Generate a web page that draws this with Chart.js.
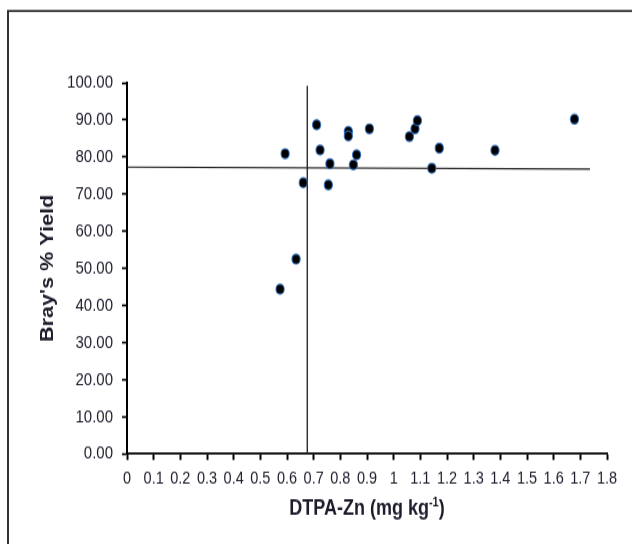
<!DOCTYPE html>
<html>
<head>
<meta charset="utf-8">
<title>Bray's % Yield vs DTPA-Zn</title>
<script src="https://cdn.jsdelivr.net/npm/chart.js@4.4.1/dist/chart.umd.min.js"></script>
<style>
    html, body { margin: 0; padding: 0; background: #ffffff; }
    body { width: 632px; height: 544px; }
    /* the source figure is stretched vertically, so the canvas is too */
    #chart { display: block; transform-origin: 0 0; transform: scaleY(1.2); }
</style>
</head>
<body>
<canvas id="chart" width="632" height="453"></canvas>
<script>
// DTPA-Zn (mg/kg) and Bray's % yield
const zincValues = [0.574, 0.593, 0.634, 0.661, 0.711, 0.724, 0.755, 0.761, 0.830, 0.830,
                    0.849, 0.861, 0.909, 1.059, 1.080, 1.089, 1.143, 1.171, 1.380, 1.678];
const yieldValues = [44.4, 80.9, 52.5, 73.1, 88.7, 81.9, 72.5, 78.2, 86.9, 85.7,
                     77.9, 80.6, 87.6, 85.5, 87.6, 89.8, 77.0, 82.4, 81.8, 90.2];

// critical limit lines (Cate-Nelson style)
const vLineX = [0.676, 0.676];
const vLineY = [0, 99.2];
const hLineX = [0, 1.736];
const hLineY = [77.3, 76.75];

// axis ranges / ticks
const xTicks = { min: 0, max: 1.8, step: 0.1 };
const yTicks = { min: 0, max: 100, step: 10 };

const X_TITLE = 'DTPA-Zn (mg kg';
const X_TITLE_SUP = '-1';
const X_TITLE_END = ')';
const Y_TITLE = "Bray's % Yield";

const FONT = '"Liberation Sans", Arial, sans-serif';
const TEXT_COLOR = '#1c1c2c';

const toPoints = (xs, ys) => xs.map((x, i) => ({ x: x, y: ys[i] }));

// white background plus the figure frame (left and top edges)
const framePlugin = {
    id: 'frame',
    beforeDraw(chart) {
        const ctx = chart.ctx;
        ctx.save();
        ctx.fillStyle = '#ffffff';
        ctx.fillRect(0, 0, chart.width, chart.height);
        ctx.strokeStyle = '#333333';
        ctx.lineWidth = 2;
        ctx.beginPath();
        ctx.moveTo(8, chart.height);
        ctx.lineTo(8, 9.2);
        ctx.stroke();
        ctx.lineWidth = 1.7;
        ctx.beginPath();
        ctx.moveTo(7, 9.2);
        ctx.lineTo(chart.width, 9.2);
        ctx.stroke();
        ctx.restore();
    }
};

// x title with a superscript "-1"
const xTitlePlugin = {
    id: 'xTitle',
    afterDraw(chart) {
        const ctx = chart.ctx;
        const area = chart.chartArea;
        const mainFont = 'bold 18px ' + FONT;
        const supFont = 'bold 11px ' + FONT;
        ctx.save();
        ctx.fillStyle = TEXT_COLOR;
        ctx.textBaseline = 'alphabetic';
        ctx.textAlign = 'left';
        ctx.font = mainFont;
        const w1 = ctx.measureText(X_TITLE).width;
        const w3 = ctx.measureText(X_TITLE_END).width;
        ctx.font = supFont;
        const w2 = ctx.measureText(X_TITLE_SUP).width;
        const cx = (area.left + area.right) / 2;
        const baseY = chart.scales.x.bottom - 24.5;
        let x = cx - (w1 + w2 + w3) / 2;
        ctx.font = mainFont;
        ctx.fillText(X_TITLE, x, baseY);
        x += w1;
        ctx.font = supFont;
        ctx.fillText(X_TITLE_SUP, x, baseY - 7);
        x += w2;
        ctx.font = mainFont;
        ctx.fillText(X_TITLE_END, x, baseY);
        ctx.restore();
    }
};

const ctx = document.getElementById('chart').getContext('2d');
const chart = new Chart(ctx, {
    type: 'scatter',
    data: {
        datasets: [{
            label: 'Yield',
            data: toPoints(zincValues, yieldValues),
            pointRadius: 4.1,
            pointHoverRadius: 4.1,
            pointBackgroundColor: '#000000',
            pointBorderColor: 'rgba(45, 110, 190, 0.85)',
            pointBorderWidth: 1.2,
            order: 0
        }, {
            label: 'Vertical limit',
            data: toPoints(vLineX, vLineY),
            showLine: true,
            borderColor: '#1a1a1a',
            borderWidth: 1.3,
            pointRadius: 0,
            order: 1
        }, {
            label: 'Horizontal limit',
            data: toPoints(hLineX, hLineY),
            showLine: true,
            borderColor: '#1a1a1a',
            borderWidth: 1.1,
            pointRadius: 0,
            order: 1
        }]
    },
    options: {
        responsive: false,
        animation: false,
        events: [],
        layout: {
            padding: { top: 69, right: 25, bottom: 0, left: 0 }
        },
        plugins: {
            legend: { display: false },
            tooltip: { enabled: false }
        },
        scales: {
            x: {
                type: 'linear',
                position: 'bottom',
                min: xTicks.min,
                max: xTicks.max,
                afterFit: function(scale) { scale.height = 74.7; },
                border: { display: true, color: '#000000', width: 1.7 },
                grid: {
                    drawOnChartArea: false,
                    drawTicks: true,
                    tickLength: 5,
                    tickColor: '#000000',
                    tickWidth: 2
                },
                ticks: {
                    stepSize: xTicks.step,
                    autoSkip: false,
                    maxRotation: 0,
                    padding: 7,
                    color: TEXT_COLOR,
                    font: { family: FONT, size: 14.5 },
                    callback: function(value) {
                        return Number(value.toFixed(1)).toString();
                    }
                }
            },
            y: {
                type: 'linear',
                position: 'left',
                min: yTicks.min,
                max: yTicks.max,
                afterFit: function(scale) { scale.width = 127; },
                border: { display: true, color: '#000000', width: 2 },
                grid: {
                    drawOnChartArea: false,
                    drawTicks: true,
                    tickLength: 5,
                    tickColor: '#000000',
                    tickWidth: 1.7
                },
                ticks: {
                    stepSize: yTicks.step,
                    padding: 9,
                    color: TEXT_COLOR,
                    font: { family: FONT, size: 15 },
                    callback: function(value) {
                        return value.toFixed(2);
                    }
                },
                title: {
                    display: true,
                    text: Y_TITLE,
                    color: TEXT_COLOR,
                    font: { family: FONT, size: 18, weight: 'bold' },
                    padding: { top: 37, bottom: 0 }
                }
            }
        }
    },
    plugins: [framePlugin, xTitlePlugin]
});
</script>
</body>
</html>
